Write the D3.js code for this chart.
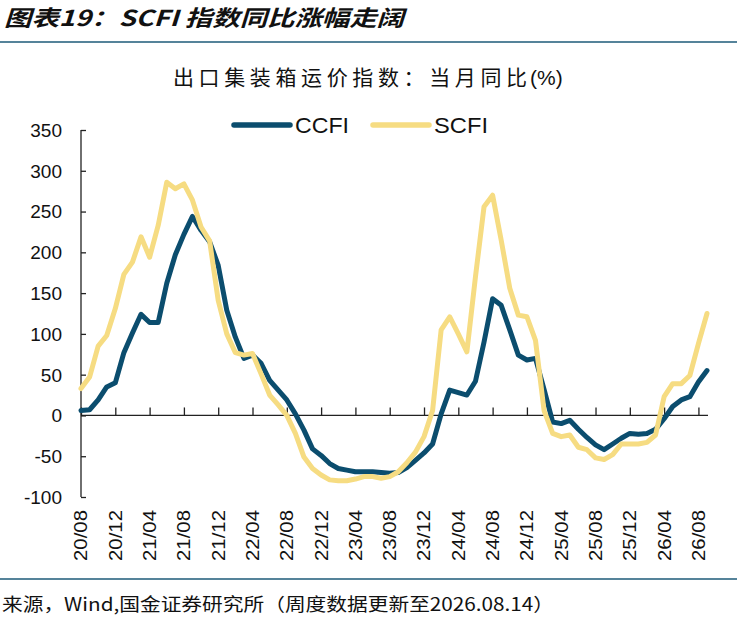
<!DOCTYPE html>
<html>
<head>
<meta charset="utf-8">
<script src="https://cdn.jsdelivr.net/npm/d3@7"></script>
<style>
  body { margin: 0; background: #fff; }
  svg { display: block; }
</style>
</head>
<body>
<div id="chart"></div>
<script>
// months on the x axis (one point per month)
const months = [
  "20/08","20/09","20/10","20/11","20/12","21/01","21/02","21/03","21/04","21/05","21/06","21/07",
  "21/08","21/09","21/10","21/11","21/12","22/01","22/02","22/03","22/04","22/05","22/06","22/07",
  "22/08","22/09","22/10","22/11","22/12","23/01","23/02","23/03","23/04","23/05","23/06","23/07",
  "23/08","23/09","23/10","23/11","23/12","24/01","24/02","24/03","24/04","24/05","24/06","24/07",
  "24/08","24/09","24/10","24/11","24/12","25/01","25/02","25/03","25/04","25/05","25/06","25/07",
  "25/08","25/09","25/10","25/11","25/12","26/01","26/02","26/03","26/04","26/05","26/06","26/07",
  "26/08","26/09"
];

const tickMonths = ["20/08","20/12","21/04","21/08","21/12","22/04","22/08","22/12","23/04",
  "23/08","23/12","24/04","24/08","24/12","25/04","25/08","25/12","26/04","26/08"];

const yTicks = [350, 300, 250, 200, 150, 100, 50, 0, -50, -100];

// year-on-year change, %
const ccfi = [
  6, 7, 19, 35, 40, 77, 101, 124, 114, 114, 162, 197,
  222, 244, 227, 213, 184, 129, 96, 70, 74, 64, 43, 31,
  19, 2, -18, -41, -49, -59, -65, -67, -69, -69, -69, -70,
  -71, -70, -64, -55, -46, -35, 2, 31, 28, 25, 42, 90,
  143, 135, 105, 74, 68, 70, 32, -8, -10, -6, -17, -27,
  -36, -42, -35, -28, -22, -23, -22, -17, -4, 11, 19, 23,
  41, 55
];

const scfi = [
  33, 47, 85, 98, 131, 173, 188, 219, 194, 233, 286, 278,
  284, 264, 231, 214, 141, 100, 77, 74, 76, 51, 25, 13,
  0, -22, -51, -65, -73, -79, -80, -80, -78, -75, -75, -77,
  -75, -69, -58, -45, -26, 6, 105, 121, 100, 78, 170, 256,
  270, 215, 156, 123, 121, 92, 6, -22, -26, -24, -39, -42,
  -52, -54, -48, -35, -35, -35, -33, -24, 23, 39, 39, 49,
  88, 125
];

const seriesNames = ["CCFI", "SCFI"];
const seriesColors = ["#0b4d6e", "#f6dc82"];

const width = 737, height = 618;
const plot = { left: 81, right: 707, top: 130, bottom: 497 };
const ruleColor = "#1c5a78";
const latin = "'Liberation Sans', Arial, sans-serif";
const cjk = "'Noto Sans CJK SC', 'Noto Sans', sans-serif";

const svg = d3.select("#chart").append("svg")
  .attr("width", width)
  .attr("height", height)
  .attr("viewBox", [0, 0, width, height]);

// header
svg.append("text")
  .attr("x", 4).attr("y", 26)
  .attr("font-family", cjk)
  .attr("font-size", 22)
  .attr("font-weight", "bold")
  .attr("font-style", "italic")
  .attr("fill", "#111")
  .attr("textLength", 400)
  .attr("lengthAdjust", "spacingAndGlyphs")
  .text("图表19：SCFI 指数同比涨幅走阔");

svg.append("line")
  .attr("x1", 0).attr("x2", width)
  .attr("y1", 42).attr("y2", 42)
  .attr("stroke", ruleColor)
  .attr("stroke-width", 1.5);

// chart subtitle: spaced CJK part, tight "(%)"
svg.append("text")
  .attr("x", 173).attr("y", 85)
  .attr("font-family", cjk)
  .attr("font-size", 21)
  .attr("fill", "#111")
  .attr("textLength", 354)
  .attr("lengthAdjust", "spacing")
  .text("出口集装箱运价指数：当月同比");
svg.append("text")
  .attr("x", 530).attr("y", 85)
  .attr("font-family", latin)
  .attr("font-size", 21)
  .attr("fill", "#111")
  .text("(%)");

// scales
const x = d3.scalePoint().domain(months).range([plot.left, plot.right]);
const y = d3.scaleLinear().domain([-100, 350]).range([plot.bottom, plot.top]);

// y axis: ticks point inward
const yAxis = svg.append("g")
  .attr("transform", "translate(" + plot.left + ",0)")
  .call(d3.axisRight(y).tickValues(yTicks).tickSize(5).tickFormat(""));
yAxis.select(".domain").attr("d", "M0," + y(350) + "V" + y(-100)).attr("stroke", "#222").attr("stroke-width", 1.3);
yAxis.selectAll(".tick line").attr("stroke", "#222").attr("stroke-width", 1.3);

svg.append("g")
  .selectAll("text")
  .data(yTicks)
  .join("text")
  .attr("x", 62)
  .attr("y", d => y(d))
  .attr("dy", "0.36em")
  .attr("text-anchor", "end")
  .attr("font-family", latin)
  .attr("font-size", 19)
  .attr("fill", "#111")
  .text(d => d);

// x axis sits on the zero line, ticks upward
const xAxis = svg.append("g")
  .attr("transform", "translate(0," + y(0) + ")")
  .call(d3.axisTop(x).tickValues(tickMonths).tickSize(8).tickSizeOuter(0).tickFormat(""));
xAxis.select(".domain").attr("d", "M" + plot.left + ",0H" + (plot.right + 1)).attr("stroke", "#222").attr("stroke-width", 1.3);
xAxis.selectAll(".tick line").attr("stroke", "#222").attr("stroke-width", 1.3);

svg.append("g")
  .selectAll("text")
  .data(tickMonths)
  .join("text")
  .attr("transform", d => "translate(" + x(d) + ",510) rotate(-90)")
  .attr("dy", "0.36em")
  .attr("text-anchor", "end")
  .attr("font-family", latin)
  .attr("font-size", 18)
  .attr("fill", "#111")
  .attr("textLength", 51)
  .attr("lengthAdjust", "spacingAndGlyphs")
  .text(d => d);

// lines
const line = d3.line()
  .x((d, i) => x(months[i]))
  .y(d => y(d));

[ccfi, scfi].forEach((values, k) => {
  svg.append("path")
    .datum(values)
    .attr("d", line)
    .attr("fill", "none")
    .attr("stroke", seriesColors[k])
    .attr("stroke-width", 5)
    .attr("stroke-linejoin", "round")
    .attr("stroke-linecap", "round");
});

// legend
const legendX = [234, 373];
seriesNames.forEach((name, k) => {
  const g = svg.append("g").attr("transform", "translate(" + legendX[k] + ",125)");
  g.append("line")
    .attr("x1", 0).attr("x2", 56)
    .attr("stroke", seriesColors[k])
    .attr("stroke-width", 5.5)
    .attr("stroke-linecap", "round");
  g.append("text")
    .attr("x", 61)
    .attr("dy", "0.36em")
    .attr("font-family", latin)
    .attr("font-size", 22)
    .attr("fill", "#111")
    .attr("textLength", 54)
    .attr("lengthAdjust", "spacingAndGlyphs")
    .text(name);
});

// footer
svg.append("line")
  .attr("x1", 0).attr("x2", width)
  .attr("y1", 579).attr("y2", 579)
  .attr("stroke", ruleColor)
  .attr("stroke-width", 1.5);

svg.append("text")
  .attr("x", 2).attr("y", 611)
  .attr("font-family", cjk)
  .attr("font-size", 18)
  .attr("fill", "#111")
  .attr("textLength", 552)
  .attr("lengthAdjust", "spacingAndGlyphs")
  .text("来源，Wind,国金证券研究所（周度数据更新至2026.08.14）");
</script>
</body>
</html>
